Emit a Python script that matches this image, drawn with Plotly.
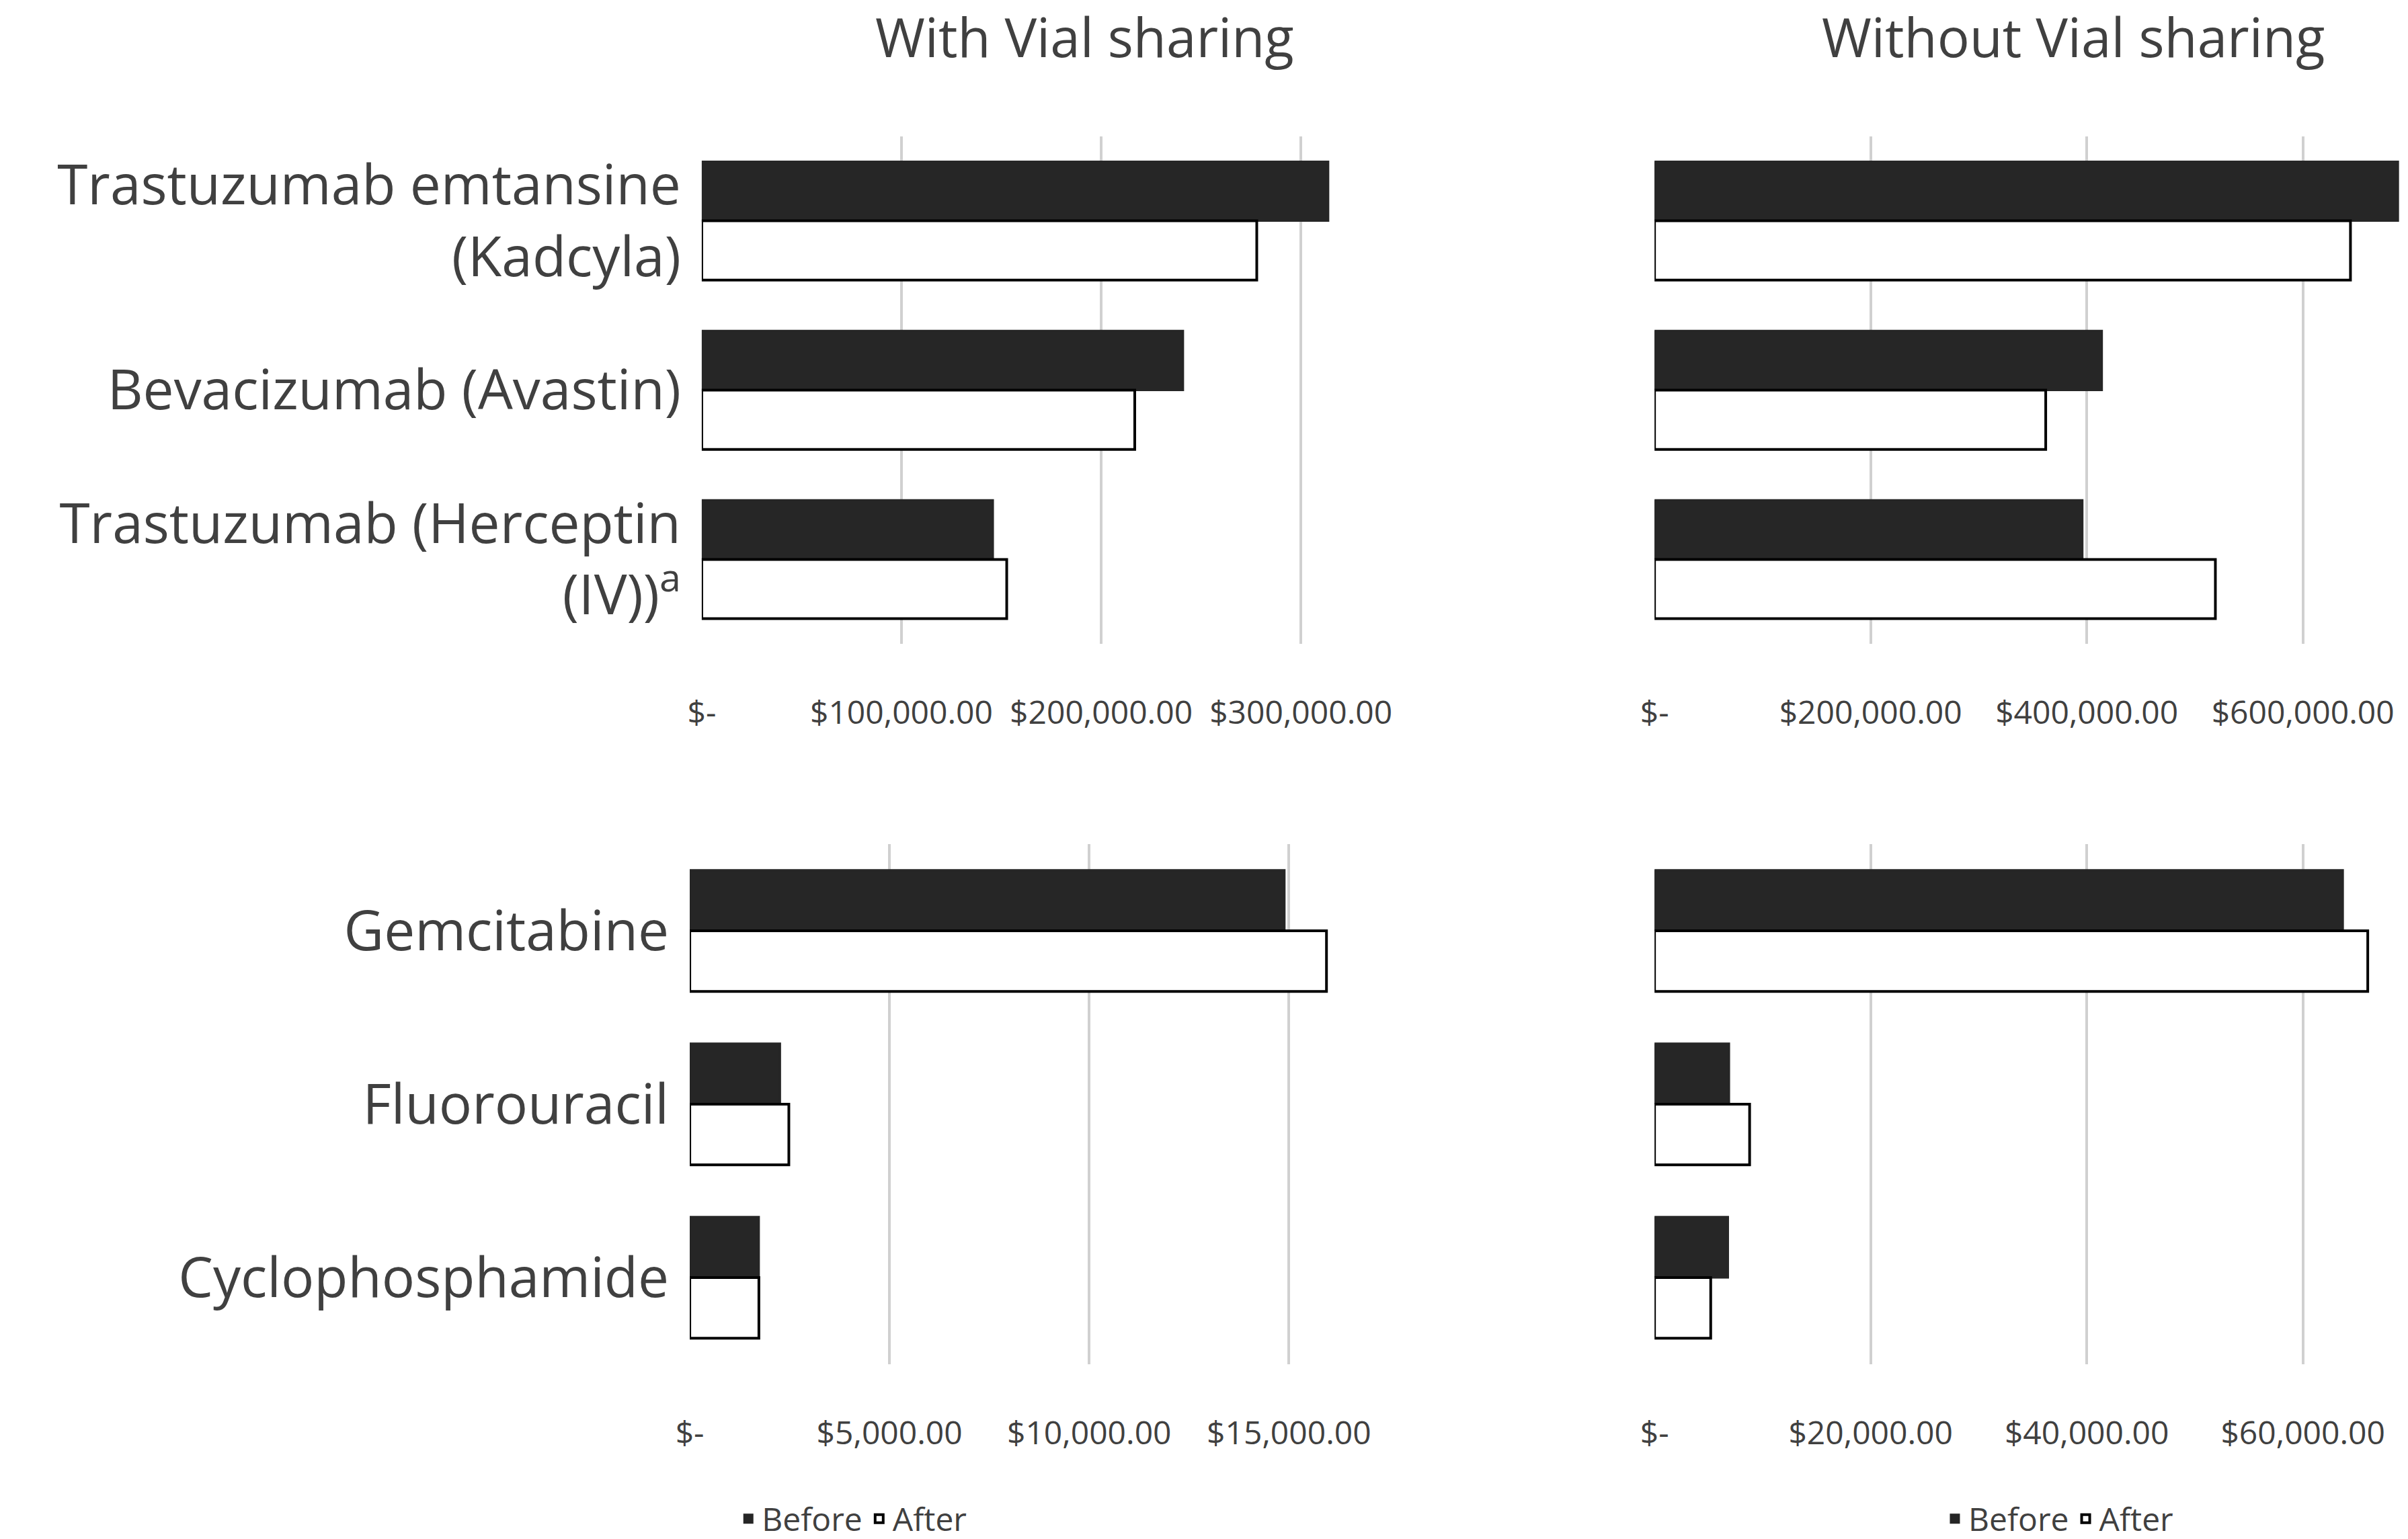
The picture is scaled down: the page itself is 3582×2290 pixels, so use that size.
import plotly.graph_objects as go

top_cats = ["Trastuzumab emtansine<br>(Kadcyla)", "Bevacizumab (Avastin)", "Trastuzumab (Herceptin<br>(IV))<sup>a</sup>"]
bot_cats = ["Gemcitabine", "Fluorouracil", "Cyclophosphamide"]

tl_before = [313700, 241000, 145800]
tl_after = [277900, 216800, 152700]
tr_before = [688000, 414000, 396000]
tr_after = [644000, 362000, 519000]
bl_before = [14890, 2260, 1730]
bl_after = [15940, 2480, 1730]
br_before = [63700, 6900, 6800]
br_after = [66000, 8800, 5200]

tl_ticks = [0, 100000, 200000, 300000]
tl_text = ["$-", "$100,000.00", "$200,000.00", "$300,000.00"]
tr_ticks = [0, 200000, 400000, 600000]
tr_text = ["$-", "$200,000.00", "$400,000.00", "$600,000.00"]
bl_ticks = [0, 5000, 10000, 15000]
bl_text = ["$-", "$5,000.00", "$10,000.00", "$15,000.00"]
br_ticks = [0, 20000, 40000, 60000]
br_text = ["$-", "$20,000.00", "$40,000.00", "$60,000.00"]

DARK = "#262626"
fig = go.Figure()
panels = [
    ("x", "y", top_cats, tl_before, tl_after, "legend", False),
    ("x2", "y2", top_cats, tr_before, tr_after, "legend2", False),
    ("x3", "y3", bot_cats, bl_before, bl_after, "legend", True),
    ("x4", "y4", bot_cats, br_before, br_after, "legend2", True),
]
for xa, ya, cats, b, a, lg, show in panels:
    fig.add_trace(go.Bar(y=cats, x=b, orientation="h", name="Before", xaxis=xa, yaxis=ya,
                         marker=dict(color=DARK, line=dict(color=DARK, width=3)),
                         legend=lg, showlegend=show))
    fig.add_trace(go.Bar(y=cats, x=a, orientation="h", name="After", xaxis=xa, yaxis=ya,
                         marker=dict(color="white", line=dict(color="black", width=4)),
                         legend=lg, showlegend=show))

def xax(dom, rng, tv, tt, anchor):
    return dict(domain=dom, range=rng, tickvals=tv, ticktext=tt, anchor=anchor,
                showgrid=True, gridcolor="#d0d0d0", gridwidth=4, zeroline=False,
                showline=False, ticks="", ticklabelstandoff=70,
                tickfont=dict(size=48, color="#404040", family="Open Sans"))

def yax(dom, anchor, show=True):
    return dict(domain=dom, anchor=anchor, autorange="reversed", showgrid=False,
                showticklabels=show, ticks="", ticklabelstandoff=30,
                tickfont=dict(size=82, color="#404040", family="Open Sans"))

fig.update_layout(
    width=3582, height=2290, plot_bgcolor="white", paper_bgcolor="white",
    margin=dict(l=0, r=0, t=0, b=0), barmode="group", bargap=0.3, bargroupgap=0,
    xaxis=xax([0.285, 0.577], [0, 350000], tl_ticks, tl_text, "y"),
    yaxis=yax([0.585, 0.915], "x"),
    xaxis2=xax([0.683, 0.999], [0, 700000], tr_ticks, tr_text, "y2"),
    yaxis2=yax([0.585, 0.915], "x2", False),
    xaxis3=xax([0.280, 0.572], [0, 17500], bl_ticks, bl_text, "y3"),
    yaxis3=yax([0.117, 0.455], "x3"),
    xaxis4=xax([0.683, 0.999], [0, 70000], br_ticks, br_text, "y4"),
    yaxis4=yax([0.117, 0.455], "x4", False),
    legend=dict(orientation="h", x=0.348, y=0.0, xanchor="center", yanchor="bottom",
                font=dict(size=48, color="#404040", family="Open Sans")),
    legend2=dict(orientation="h", x=0.852, y=0.0, xanchor="center", yanchor="bottom",
                 font=dict(size=48, color="#404040", family="Open Sans")),
    annotations=[
        dict(text="With Vial sharing", x=0.445, y=0.98, xref="paper", yref="paper",
             xanchor="center", yanchor="middle",
             showarrow=False, font=dict(size=80, color="#404040", family="Open Sans")),
        dict(text="Without Vial sharing", x=0.858, y=0.98, xref="paper", yref="paper",
             xanchor="center", yanchor="middle",
             showarrow=False, font=dict(size=80, color="#404040", family="Open Sans")),
    ],
)
fig.write_html("out.html")
